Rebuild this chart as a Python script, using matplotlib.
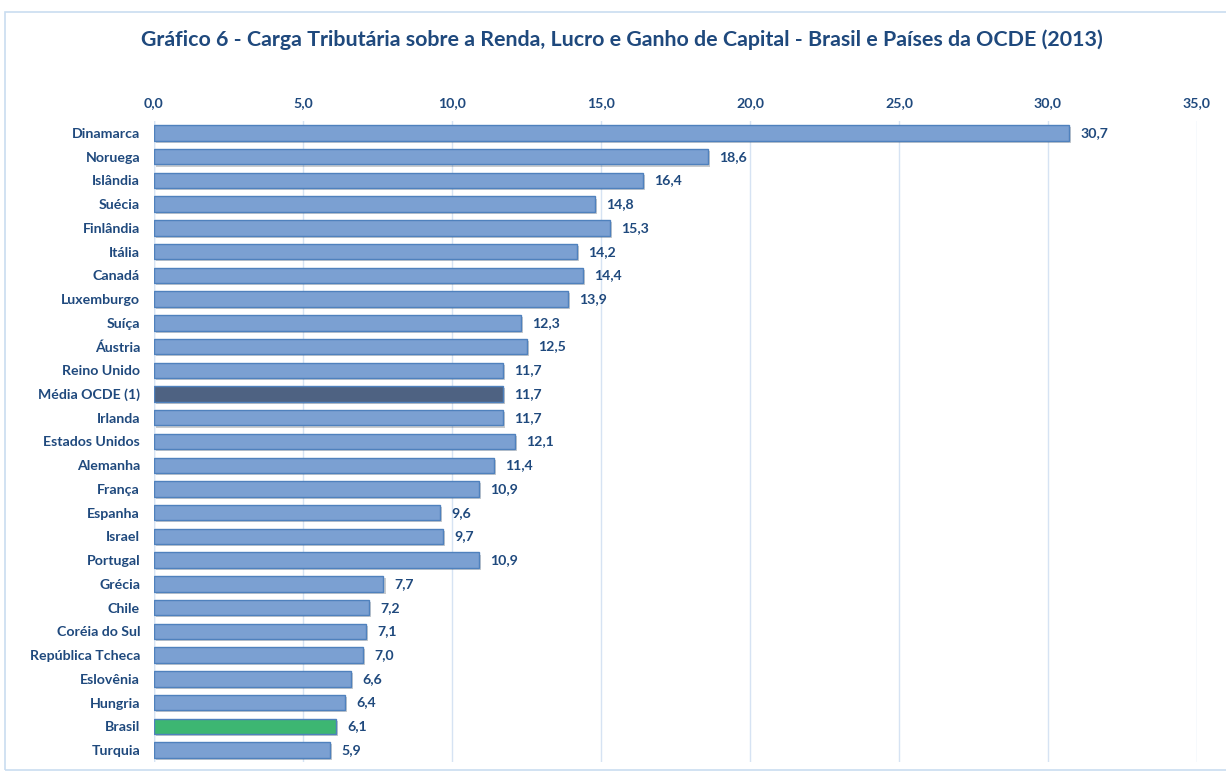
import matplotlib
matplotlib.use("Agg")
import matplotlib.pyplot as plt
import matplotlib.patheffects as pe
from matplotlib.patches import Rectangle

countries = ["Dinamarca", "Noruega", "Islândia", "Suécia", "Finlândia", "Itália",
             "Canadá", "Luxemburgo", "Suíça", "Áustria", "Reino Unido", "Média OCDE (1)",
             "Irlanda", "Estados Unidos", "Alemanha", "França", "Espanha", "Israel",
             "Portugal", "Grécia", "Chile", "Coréia do Sul", "República Tcheca",
             "Eslovênia", "Hungria", "Brasil", "Turquia"]
values = [30.7, 18.6, 16.4, 14.8, 15.3, 14.2, 14.4, 13.9, 12.3, 12.5, 11.7, 11.7,
          11.7, 12.1, 11.4, 10.9, 9.6, 9.7, 10.9, 7.7, 7.2, 7.1, 7.0, 6.6, 6.4, 6.1, 5.9]
xticks = [0, 5, 10, 15, 20, 25, 30, 35]
title = "Gráfico 6 - Carga Tributária sobre a Renda, Lucro e Ganho de Capital - Brasil e Países da OCDE (2013)"

TXT = "#1F497D"
base_c = "#7BA0D2"
edge_c = "#4F81BD"
colors = []
for c in countries:
    if c.startswith("Média"):
        colors.append("#4E6282")
    elif c == "Brasil":
        colors.append("#3DB672")
    else:
        colors.append(base_c)

plt.rcParams['font.family'] = ['Lato', 'DejaVu Sans']

fig = plt.figure(figsize=(12.26, 7.71), dpi=100)
fig.patches.append(Rectangle((5/1226, 1 - 770/771), 1.0, (770-12)/771,
                             transform=fig.transFigure, fill=False,
                             edgecolor="#C9DDF0", linewidth=1.2))

n = len(countries)
step = (750 - 133) / (n - 1)
top_px = 133 - 0.5 * step
bot_px = 750 + 0.5 * step
ax = fig.add_axes([154/1226, 1 - bot_px/771, (1197-154)/1226, (bot_px - top_px)/771])

ypos = list(range(n))
bars = ax.barh(ypos, values, height=0.65, color=colors, edgecolor=edge_c, linewidth=1.0, zorder=3)
for b in bars:
    b.set_path_effects([pe.SimplePatchShadow(offset=(1.5, -1.5), alpha=0.25), pe.Normal()])

for y, v in zip(ypos, values):
    ax.text(v + 0.38, y, f"{v:.1f}".replace(".", ","), va="center", ha="left",
            fontsize=10.2, fontweight="bold", color=TXT)

ax.set_ylim(n - 0.5, -0.5)
ax.set_xlim(0, 35)
ax.set_yticks(ypos)
ax.set_yticklabels(countries, fontsize=10.2, fontweight="bold", color=TXT)
ax.set_xticks(xticks)
ax.set_xticklabels([f"{t:.1f}".replace(".", ",") for t in xticks], fontsize=10.2,
                   fontweight="bold", color=TXT)
ax.xaxis.tick_top()
ax.tick_params(axis="x", length=0, pad=9)
ax.tick_params(axis="y", length=0, pad=10)
ax.grid(axis="x", color="#D6E3F3", linewidth=1.0, zorder=0)
for s in ax.spines.values():
    s.set_visible(False)
ax.axvline(0, color="#D6E3F3", linewidth=1.0, zorder=0)

fig.text(622/1226, 1 - 40/771, title, ha="center", va="center", fontsize=15.4,
         fontweight="bold", color=TXT)

fig.savefig("out.png", dpi=100)
